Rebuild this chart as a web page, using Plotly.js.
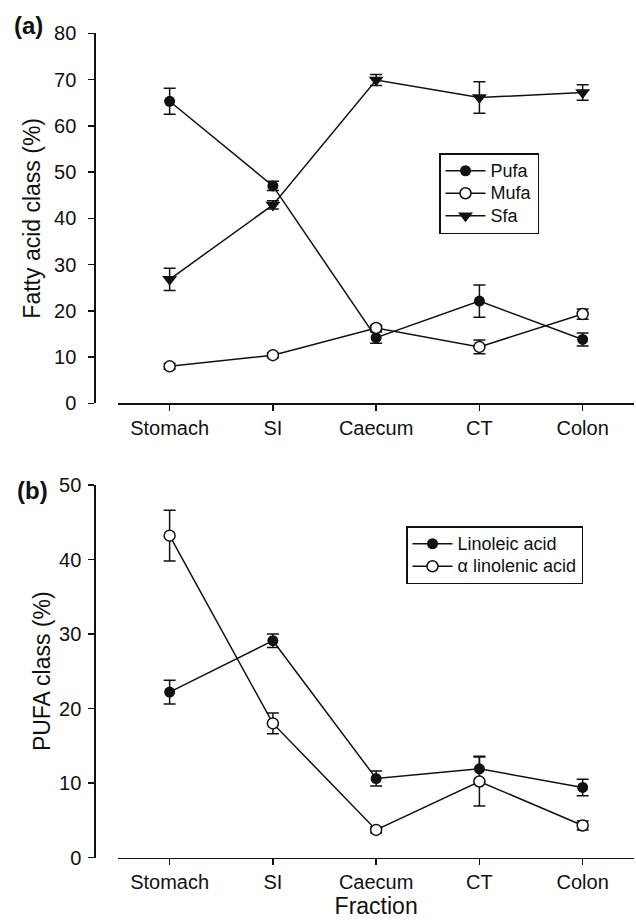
<!DOCTYPE html>
<html>
<head>
<meta charset="utf-8">
<script src="https://cdn.plot.ly/plotly-3.0.1.min.js"></script>
<style>
  html, body { margin: 0; padding: 0; background: #fff; }
  #chart { width: 636px; height: 920px; }
</style>
</head>
<body>
<div id="chart"></div>
<script>
// Gut fractions along the digestive tract
const fractions = ['Stomach', 'SI', 'Caecum', 'CT', 'Colon'];

// (a) Fatty acid classes, mean and error
const pufa = [65.3, 47.0, 14.2, 22.1, 13.8];
const pufaErr = [2.8, 1.0, 1.2, 3.5, 1.4];
const mufa = [8.0, 10.4, 16.3, 12.2, 19.3];
const mufaErr = [0.6, 0.5, 0.6, 1.5, 1.1];
const sfa = [26.8, 42.9, 69.9, 66.1, 67.2];
const sfaErr = [2.4, 0.9, 1.2, 3.4, 1.7];

// (b) PUFA classes, mean and error
const linoleic = [22.2, 29.1, 10.6, 11.9, 9.4];
const linoleicErr = [1.6, 0.9, 1.0, 1.7, 1.1];
const alphaLinolenic = [43.2, 18.0, 3.7, 10.2, 4.3];
const alphaLinolenicErr = [3.4, 1.4, 0.4, 3.3, 0.6];

const W = 636, H = 920;
const FONT = 'Liberation Sans, Arial, Helvetica, sans-serif';
const INK = '#111';

function errBars(arr) {
  return { type: 'data', array: arr, visible: true, color: INK, thickness: 1.5, width: 6 };
}
const filled = { symbol: 'circle', size: 11, color: INK };
const open = { symbol: 'circle', size: 11, color: '#fff', line: { color: INK, width: 1.5 } };
const tri = { symbol: 'triangle-down', size: 13, color: INK };

// legend entries are set a little larger than the legend's base font,
// which keeps the rows tight
function legendName(s) {
  return '<span style="font-size:18px">' + s + '</span>';
}

function series(name, y, err, marker, xa, ya, legend) {
  return {
    type: 'scatter', mode: 'lines+markers', name: legendName(name),
    x: fractions, y: y, error_y: errBars(err),
    line: { color: INK, width: 1.5 }, marker: marker,
    xaxis: xa, yaxis: ya, legend: legend
  };
}

const data = [
  series('Pufa', pufa, pufaErr, filled, 'x', 'y', 'legend'),
  series('Mufa', mufa, mufaErr, open, 'x', 'y', 'legend'),
  series('Sfa', sfa, sfaErr, tri, 'x', 'y', 'legend'),
  series('Linoleic acid', linoleic, linoleicErr, filled, 'x2', 'y2', 'legend2'),
  series('\u03b1 linolenic acid', alphaLinolenic, alphaLinolenicErr, open, 'x2', 'y2', 'legend2')
];

const xDomain = [118 / W, 634.3 / W];
const yAxisPos = 94.3 / W;

function xAxis(anchor, title) {
  return {
    type: 'category', domain: xDomain, range: [-0.5, 4.5], anchor: anchor,
    showline: true, linecolor: INK, linewidth: 1.5,
    ticks: 'outside', ticklen: 6, tickwidth: 1.5, tickcolor: INK,
    showgrid: false, zeroline: false,
    tickfont: { family: FONT, size: 20, color: INK },
    title: title ? { text: title, font: { family: FONT, size: 23, color: INK }, standoff: 6 } : undefined
  };
}
function yAxis(domain, range, title, standoff, labelGap) {
  return {
    domain: domain, range: range, anchor: 'free', position: yAxisPos,
    showline: true, linecolor: INK, linewidth: 1.5,
    ticks: 'outside', ticklen: 6, tickwidth: 1.5, tickcolor: INK,
    dtick: 10, tick0: 0, ticklabelstandoff: labelGap,
    showgrid: false, zeroline: false,
    tickfont: { family: FONT, size: 20, color: INK },
    title: { text: title, font: { family: FONT, size: 23, color: INK }, standoff: standoff }
  };
}

const legendBase = {
  xanchor: 'left', yanchor: 'top',
  bgcolor: '#fff', bordercolor: INK, borderwidth: 1.5,
  font: { family: FONT, size: 15, color: INK },
  itemwidth: 40, tracegroupgap: 0
};

const layout = {
  width: W, height: H,
  margin: { l: 0, r: 0, t: 0, b: 0 },
  paper_bgcolor: '#fff', plot_bgcolor: '#fff',
  showlegend: true,
  xaxis: xAxis('y', null),
  yaxis: yAxis([(H - 403.3) / H, (H - 33.3) / H], [0, 80], 'Fatty acid class (%)', 5, 8),
  xaxis2: xAxis('y2', 'Fraction'),
  yaxis2: yAxis([(H - 857.5) / H, (H - 485) / H], [0, 50], 'PUFA class (%)', 0, 3),
  legend: Object.assign({}, legendBase, { x: 439 / W, y: 1 - 153 / H }),
  legend2: Object.assign({}, legendBase, { x: 406 / W, y: 1 - 526 / H }),
  annotations: [
    { text: '<b>(a)</b>', xref: 'paper', yref: 'paper', x: 12 / W, y: 1 - 25 / H,
      xanchor: 'left', yanchor: 'middle', showarrow: false,
      font: { family: FONT, size: 24, color: INK } },
    { text: '<b>(b)</b>', xref: 'paper', yref: 'paper', x: 15 / W, y: 1 - 490 / H,
      xanchor: 'left', yanchor: 'middle', showarrow: false,
      font: { family: FONT, size: 24, color: INK } }
  ]
};

Plotly.newPlot('chart', data, layout, { displayModeBar: false, staticPlot: true });
</script>
</body>
</html>
